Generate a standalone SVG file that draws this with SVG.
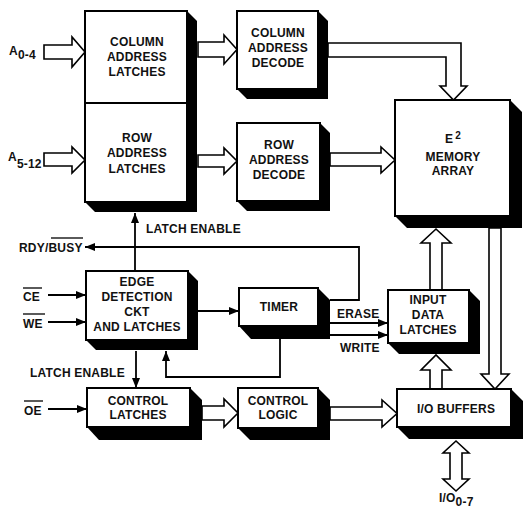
<svg xmlns="http://www.w3.org/2000/svg" width="523" height="511" viewBox="0 0 523 511">
<defs>
<style>
.box{fill:#fff;stroke:#000;stroke-width:2}
.sh{fill:#000}
.t{font-family:"Liberation Sans",Arial,sans-serif;font-weight:bold;font-size:12px;letter-spacing:0.2px;fill:#111;text-anchor:middle}
.l{font-family:"Liberation Sans",Arial,sans-serif;font-weight:bold;font-size:12px;letter-spacing:0.2px;fill:#111}
.w{fill:#fff;stroke:#000;stroke-width:1.6;stroke-linejoin:miter}
.ln{fill:none;stroke:#000;stroke-width:1.8}
.ov{stroke:#000;stroke-width:1.3}
</style>
<marker id="ah" viewBox="0 0 10 8" refX="10" refY="4" markerWidth="10" markerHeight="8" markerUnits="userSpaceOnUse" orient="auto">
<path d="M0,0 L10,4 L0,8 Z" fill="#000"/>
</marker>
</defs>
<rect width="523" height="511" fill="#fff"/>

<g id="connectors">
<polygon class="w" points="44,45 72,45 72,37 85,52 72,67 72,59 44,59"/>
<polygon class="w" points="44,153 72,153 72,147 85,160 72,173 72,166 44,166"/>
<polygon class="w" points="198,42 224,42 224,35 237,49.5 224,64 224,57 198,57"/>
<polygon class="w" points="198,155 224,155 224,148 237,161 224,174 224,167 198,167"/>
<polygon class="w" points="328,43 461,43 461,86 467,86 453.5,100 440,86 446,86 446,57 328,57"/>
<polygon class="w" points="330,153 381,153 381,147 395,160 381,173 381,166 330,166"/>
<polygon class="w" points="489,228 501,228 501,374 509,374 495,389 481,374 489,374"/>
<polygon class="w" points="430,290 430,243 421,243 436,229 451,243 442,243 442,290"/>
<polygon class="w" points="430,389 430,370 421,370 436,355 451,370 442,370 442,389"/>
<polygon class="w" points="450,453 443,453 456,441 469,453 462,453 462,479 469,479 456,491 443,479 450,479"/>
<polygon class="w" points="330,407 382,407 382,400 397,413.5 382,427 382,420 330,420"/>
<polygon class="w" points="202,406 224,406 224,399 238,413 224,427 224,420 202,420"/>
<line class="ln" x1="135" y1="271" x2="135" y2="213" marker-end="url(#ah)"/>
<polyline class="ln" points="330,300 359,300 359,247 85,247" marker-end="url(#ah)"/>
<line class="ln" x1="48" y1="295" x2="86" y2="295" marker-end="url(#ah)"/>
<line class="ln" x1="48" y1="322" x2="86" y2="322" marker-end="url(#ah)"/>
<line class="ln" x1="48" y1="409" x2="87" y2="409" marker-end="url(#ah)"/>
<line class="ln" x1="198" y1="311" x2="239" y2="311" marker-end="url(#ah)"/>
<line class="ln" x1="136" y1="351" x2="136" y2="388" marker-end="url(#ah)"/>
<polyline class="ln" points="280,338 280,377 166,377 166,351" marker-end="url(#ah)"/>
<line class="ln" x1="330" y1="323" x2="388" y2="323" marker-end="url(#ah)"/>
<line class="ln" x1="330" y1="335" x2="388" y2="335" marker-end="url(#ah)"/>
</g>

<g id="addr-latches">
<polygon class="sh" points="187,11 197,21 197,212 95,212 85,202"/>
<rect class="box" x="85" y="11" width="102" height="191"/>
<line x1="85" y1="103" x2="187" y2="103" stroke="#000" stroke-width="2"/>
<text class="t" x="137" y="46">COLUMN</text>
<text class="t" x="137" y="61">ADDRESS</text>
<text class="t" x="137" y="76">LATCHES</text>
<text class="t" x="137" y="142">ROW</text>
<text class="t" x="137" y="157">ADDRESS</text>
<text class="t" x="137" y="173">LATCHES</text>
</g>

<g id="col-decode">
<polygon class="sh" points="318,11 328,21 328,99 247,99 237,89"/>
<rect class="box" x="237" y="11" width="81" height="78"/>
<text class="t" x="278" y="37">COLUMN</text>
<text class="t" x="278" y="52">ADDRESS</text>
<text class="t" x="278" y="67">DECODE</text>
</g>

<g id="row-decode">
<polygon class="sh" points="320,123 330,133 330,211 247,211 237,201"/>
<rect class="box" x="237" y="123" width="83" height="78"/>
<text class="t" x="279" y="149">ROW</text>
<text class="t" x="279" y="164">ADDRESS</text>
<text class="t" x="279" y="179">DECODE</text>
</g>

<g id="memory">
<polygon class="sh" points="510,100 522,112 522,228 407,228 395,216"/>
<rect class="box" x="395" y="100" width="115" height="116"/>
<text class="l" x="445" y="143">E<tspan font-size="10" dx="2" dy="-4">2</tspan></text>
<text class="t" x="453" y="161">MEMORY</text>
<text class="t" x="453" y="175">ARRAY</text>
</g>

<g id="edge-detect">
<polygon class="sh" points="188,271 198,281 198,350 96,350 86,340"/>
<rect class="box" x="86" y="271" width="102" height="69"/>
<text class="t" x="137" y="286">EDGE</text>
<text class="t" x="137" y="301">DETECTION</text>
<text class="t" x="137" y="316">CKT</text>
<text class="t" x="137" y="331">AND LATCHES</text>
</g>

<g id="timer">
<polygon class="sh" points="318,288 330,300 330,339 251,339 239,326"/>
<rect class="box" x="239" y="288" width="79" height="38"/>
<text class="t" x="279" y="311">TIMER</text>
</g>

<g id="input-latches">
<polygon class="sh" points="469,290 480,301 480,354 399,354 388,343"/>
<rect class="box" x="388" y="290" width="81" height="53"/>
<text class="t" x="428" y="304">INPUT</text>
<text class="t" x="428" y="319">DATA</text>
<text class="t" x="428" y="334">LATCHES</text>
</g>

<g id="control-latches">
<polygon class="sh" points="190,388 202,400 202,440 99,440 87,427"/>
<rect class="box" x="87" y="388" width="103" height="39"/>
<text class="t" x="138" y="405">CONTROL</text>
<text class="t" x="138" y="419">LATCHES</text>
</g>

<g id="control-logic">
<polygon class="sh" points="318,388 330,400 330,440 250,440 238,428"/>
<rect class="box" x="238" y="388" width="80" height="40"/>
<text class="t" x="278" y="405">CONTROL</text>
<text class="t" x="278" y="419">LOGIC</text>
</g>

<g id="io-buffers">
<polygon class="sh" points="511,389 523,401 523,439 409,439 397,427"/>
<rect class="box" x="397" y="389" width="114" height="38"/>
<text class="t" x="456" y="413">I/O BUFFERS</text>
</g>

<g id="labels">
<text class="l" x="9" y="55" font-size="11">A<tspan dy="4">0-4</tspan></text>
<text class="l" x="8" y="161" font-size="11">A<tspan dy="7">5-12</tspan></text>
<text class="l" x="146" y="233">LATCH ENABLE</text>
<text class="l" x="19" y="252">RDY/BUSY</text>
<line class="ov" x1="51" y1="238" x2="83" y2="238"/>
<text class="l" x="23" y="301">CE</text>
<line class="ov" x1="23" y1="288" x2="42" y2="288"/>
<text class="l" x="23" y="328">WE</text>
<line class="ov" x1="23" y1="314" x2="45" y2="314"/>
<text class="l" x="30" y="377">LATCH ENABLE</text>
<text class="l" x="24" y="415">OE</text>
<line class="ov" x1="24" y1="401" x2="43" y2="401"/>
<text class="l" x="337" y="318">ERASE</text>
<text class="l" x="340" y="352">WRITE</text>
<text class="l" x="439" y="502" font-size="10">I/O<tspan dy="4">0-7</tspan></text>
</g>
</svg>
